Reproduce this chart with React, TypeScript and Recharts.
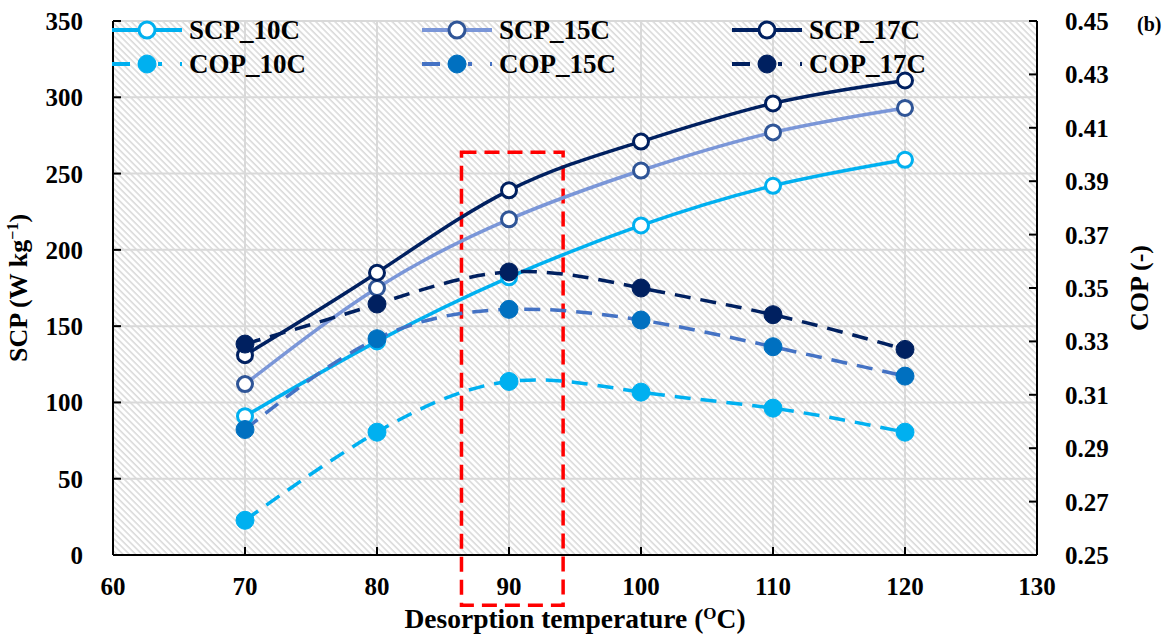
import React from "react";
import {
  LineChart,
  Line,
  XAxis,
  YAxis,
  CartesianGrid,
  ReferenceArea,
} from "recharts";

// desorption temperature (°C)
const temps = [70, 80, 90, 100, 110, 120];

// specific cooling power, W/kg
const scp10 = [91, 140, 182, 216, 242, 259];
const scp15 = [112, 175, 220, 252, 277, 293];
const scp17 = [131, 185, 239, 271, 296, 311];

// coefficient of performance
const cop10 = [0.263, 0.296, 0.315, 0.311, 0.305, 0.296];
const cop15 = [0.297, 0.331, 0.342, 0.338, 0.328, 0.317];
const cop17 = [0.329, 0.344, 0.356, 0.35, 0.34, 0.327];

const xTicks = [60, 70, 80, 90, 100, 110, 120, 130];
const scpTicks = [0, 50, 100, 150, 200, 250, 300, 350];
const copTicks = [0.25, 0.27, 0.29, 0.31, 0.33, 0.35, 0.37, 0.39, 0.41, 0.43, 0.45];

// highlighted operating window around 90 °C (x in °C, y in SCP units)
const bandX = [86.4, 94.1];
const bandY = [-33, 264];

const data = temps.map((t, i) => ({
  t,
  scp10: scp10[i],
  scp15: scp15[i],
  scp17: scp17[i],
  cop10: cop10[i],
  cop15: cop15[i],
  cop17: cop17[i],
}));

const FONT = "'Liberation Serif', 'Times New Roman', serif";
const DASH = "16 10";

type Series = {
  key: string;
  name: string;
  axis: "left" | "right";
  line: string;
  marker: string;
  open: boolean;
};

const series: Series[] = [
  { key: "scp10", name: "SCP_10C", axis: "left", line: "#00B0F0", marker: "#00B0F0", open: true },
  { key: "scp15", name: "SCP_15C", axis: "left", line: "#7A96D8", marker: "#2F5597", open: true },
  { key: "scp17", name: "SCP_17C", axis: "left", line: "#002060", marker: "#002060", open: true },
  { key: "cop10", name: "COP_10C", axis: "right", line: "#00B0F0", marker: "#00B0F0", open: false },
  { key: "cop15", name: "COP_15C", axis: "right", line: "#4472C4", marker: "#0070C0", open: false },
  { key: "cop17", name: "COP_17C", axis: "right", line: "#002060", marker: "#002060", open: false },
];

const tickText = {
  fontFamily: FONT,
  fontWeight: 700,
  fontSize: 25,
  fill: "#000",
};

function LeftTick({ x, y, payload }: any) {
  return (
    <g>
      <line x1={x + 30} x2={x + 38} y1={y} y2={y} stroke="#000" strokeWidth={2} />
      <text x={x} y={y} dy="0.36em" textAnchor="end" {...tickText}>
        {payload.value}
      </text>
    </g>
  );
}

function RightTick({ x, y, payload }: any) {
  return (
    <g>
      <line x1={x - 28} x2={x - 36} y1={y} y2={y} stroke="#000" strokeWidth={2} />
      <text x={x} y={y} dy="0.36em" textAnchor="start" {...tickText}>
        {Number(payload.value).toFixed(2)}
      </text>
    </g>
  );
}

function BottomTick({ x, y, payload }: any) {
  return (
    <g>
      <line x1={x} x2={x} y1={y - 22} y2={y - 30} stroke="#000" strokeWidth={2} />
      <text x={x} y={y} dy="0.7em" textAnchor="middle" {...tickText}>
        {payload.value}
      </text>
    </g>
  );
}

const titleText = {
  fontFamily: FONT,
  fontWeight: 700,
  fontSize: 26,
  fill: "#000",
};

function ScpTitle({ viewBox }: any) {
  const cx = (viewBox?.x ?? 0) + 18;
  const cy = (viewBox?.y ?? 21) + (viewBox?.height ?? 534) / 2;
  return (
    <text
      x={cx}
      y={cy}
      transform={`rotate(-90 ${cx} ${cy})`}
      textAnchor="middle"
      dy="0.35em"
      {...titleText}
    >
      SCP (W kg
      <tspan dy={-9} fontSize={16}>
        −1
      </tspan>
      <tspan dy={9}>)</tspan>
    </text>
  );
}

function CopTitle({ viewBox }: any) {
  const left = viewBox?.x ?? 1037;
  const cx = left + 102;
  const cy = (viewBox?.y ?? 21) + (viewBox?.height ?? 534) / 2;
  return (
    <g>
      <text
        x={cx}
        y={cy}
        transform={`rotate(-90 ${cx} ${cy})`}
        textAnchor="middle"
        dy="0.35em"
        {...titleText}
      >
        COP (-)
      </text>
      <text x={left + 100} y={31} fontFamily={FONT} fontWeight={700} fontSize={20} fill="#000">
        (b)
      </text>
    </g>
  );
}

function TempTitle({ viewBox }: any) {
  const cx = (viewBox?.x ?? 113) + (viewBox?.width ?? 924) / 2;
  return (
    <text x={cx} y={628} textAnchor="middle" {...titleText} fontSize={27.5}>
      Desorption temperature (
      <tspan dy={-9} fontSize={17}>
        O
      </tspan>
      <tspan dy={9}>C)</tspan>
    </text>
  );
}

function LegendKey({ s }: { s: Series }) {
  return (
    <div style={{ display: "flex", alignItems: "center", height: 34 }}>
      <svg width={74} height={24} style={{ display: "block" }}>
        <line
          x1={1}
          x2={71}
          y1={12}
          y2={12}
          stroke={s.line}
          strokeWidth={4}
          strokeDasharray={s.open ? undefined : "18 8 12 8 4"}
        />
        <circle
          cx={36}
          cy={12}
          r={s.open ? 8 : 9}
          fill={s.open ? "#fff" : s.marker}
          stroke={s.marker}
          strokeWidth={s.open ? 3 : 1}
        />
      </svg>
      <span
        style={{
          fontFamily: FONT,
          fontWeight: 700,
          fontSize: 27,
          marginLeft: 4,
          lineHeight: "34px",
          color: "#000",
        }}
      >
        {s.name}
      </span>
    </div>
  );
}

export default function App() {
  const cols = [0, 1, 2];
  return (
    <div
      style={{
        position: "absolute",
        left: 0,
        top: 0,
        width: 1176,
        height: 638,
        background: "#fff",
      }}
    >
      <LineChart
        width={1176}
        height={638}
        data={data}
        margin={{ top: 21, right: 0, left: 0, bottom: 0 }}
      >
        <defs>
          <pattern
            id="hatch"
            patternUnits="userSpaceOnUse"
            width={4.5}
            height={4.5}
            patternTransform="rotate(-45)"
          >
            <rect width={4.5} height={4.5} fill="#fff" />
            <line x1={1} y1={0} x2={1} y2={4.5} stroke="#d6d6d6" strokeWidth={1.4} />
          </pattern>
        </defs>
        <CartesianGrid
          yAxisId="left"
          stroke="#d9d9d9"
          strokeWidth={2}
          fill="url(#hatch)"
          fillOpacity={1}
        />
        <XAxis
          dataKey="t"
          type="number"
          domain={[60, 130]}
          ticks={xTicks}
          height={83}
          axisLine={{ stroke: "#000", strokeWidth: 2 }}
          tickLine={false}
          tickSize={0}
          tickMargin={22}
          tick={<BottomTick />}
          interval={0}
          label={<TempTitle />}
        />
        <YAxis
          yAxisId="left"
          orientation="left"
          domain={[0, 350]}
          ticks={scpTicks}
          width={113}
          axisLine={{ stroke: "#000", strokeWidth: 2 }}
          tickLine={false}
          tickSize={0}
          tickMargin={30}
          tick={<LeftTick />}
          interval={0}
          label={<ScpTitle />}
        />
        <YAxis
          yAxisId="right"
          orientation="right"
          domain={[0.25, 0.45]}
          ticks={copTicks}
          width={139}
          axisLine={{ stroke: "#000", strokeWidth: 2 }}
          tickLine={false}
          tickSize={0}
          tickMargin={28}
          tick={<RightTick />}
          interval={0}
          label={<CopTitle />}
        />
        {series.map((s) => (
          <Line
            key={s.key}
            yAxisId={s.axis}
            dataKey={s.key}
            name={s.name}
            type="natural"
            stroke={s.line}
            strokeWidth={3.5}
            strokeDasharray={s.open ? undefined : DASH}
            dot={
              s.open
                ? { r: 7.5, fill: "#fff", stroke: s.marker, strokeWidth: 3, strokeDasharray: "none" }
                : { r: 9, fill: s.marker, stroke: s.marker, strokeWidth: 1, strokeDasharray: "none" }
            }
            activeDot={false}
            isAnimationActive={false}
          />
        ))}
        <ReferenceArea
          yAxisId="left"
          x1={bandX[0]}
          x2={bandX[1]}
          y1={bandY[0]}
          y2={bandY[1]}
          ifOverflow="visible"
          fill="none"
          fillOpacity={0}
          stroke="#FF0000"
          strokeWidth={3.5}
          strokeDasharray="15 8"
        />
      </LineChart>
      {/* legend: SCP row on top, COP row below, one column per evaporator temperature */}
      {cols.map((c) => (
        <div
          key={c}
          style={{ position: "absolute", left: 111 + c * 310, top: 13 }}
        >
          <LegendKey s={series[c]} />
          <LegendKey s={series[c + 3]} />
        </div>
      ))}
    </div>
  );
}
